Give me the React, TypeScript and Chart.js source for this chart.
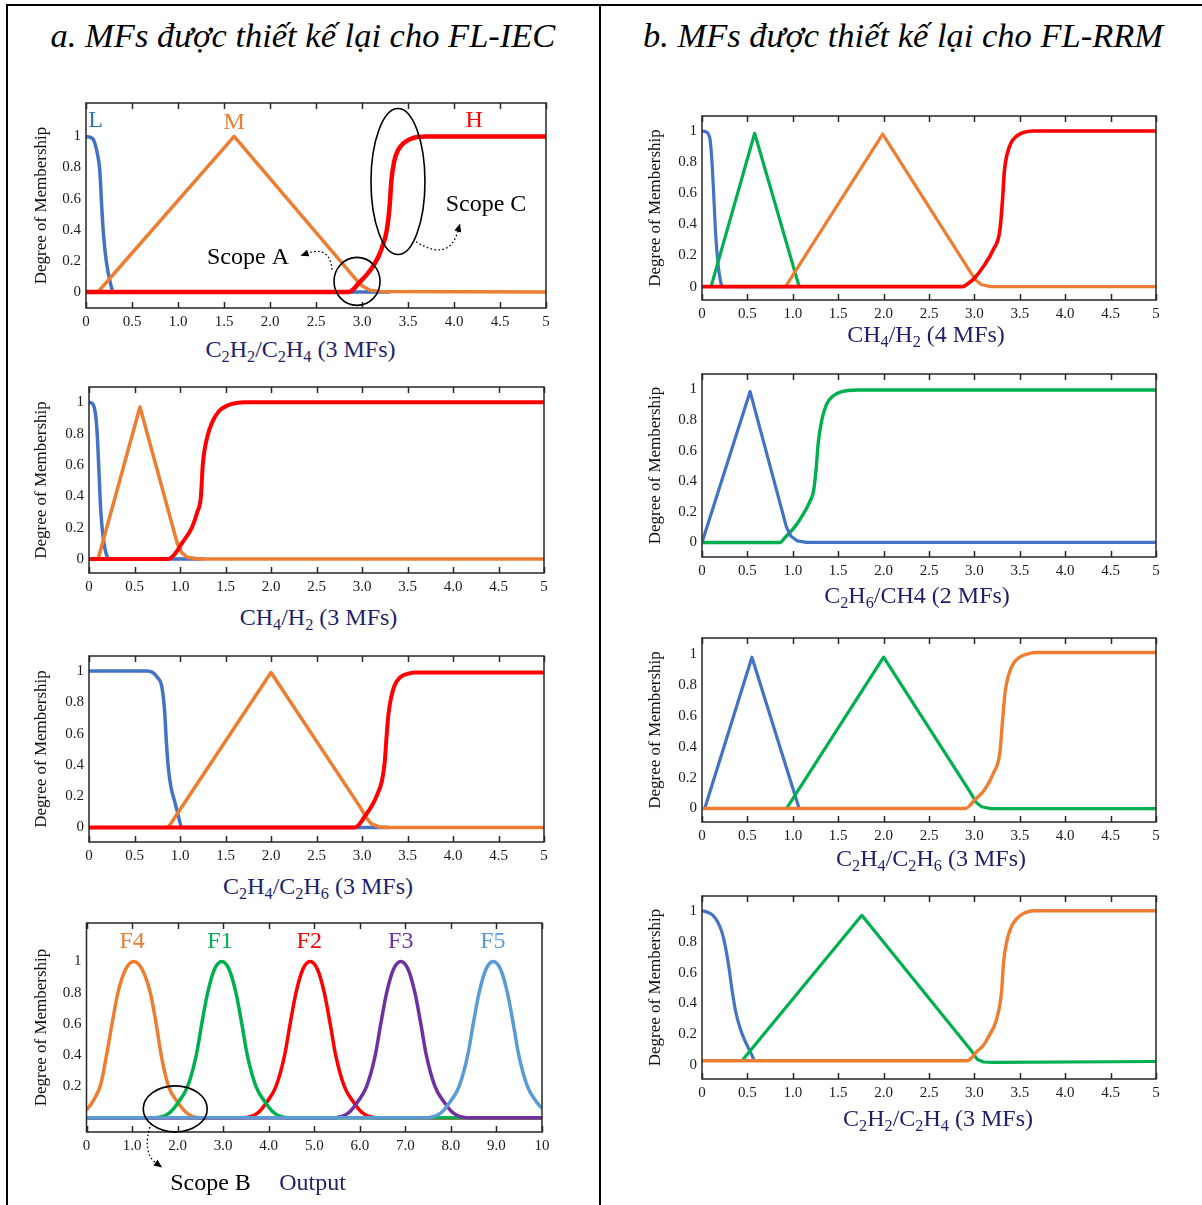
import React, { useEffect, useRef } from "react";
import { Chart, registerables } from "chart.js";

Chart.register(...registerables);

type Pt = [number, number];

// ---------------- tick values & labels ----------------
const X_TICKS_5 = [0, 0.5, 1, 1.5, 2, 2.5, 3, 3.5, 4, 4.5, 5];
const X_LABELS_5 = ["0", "0.5", "1.0", "1.5", "2.0", "2.5", "3.0", "3.5", "4.0", "4.5", "5"];
const X_TICKS_10 = [0, 1, 2, 3, 4, 5, 6, 7, 8, 9, 10];
const X_LABELS_10 = ["0", "1.0", "2.0", "3.0", "4.0", "5.0", "6.0", "7.0", "8.0", "9.0", "10"];
const Y_TICKS = [0, 0.2, 0.4, 0.6, 0.8, 1];
const Y_LABELS = ["0", "0.2", "0.4", "0.6", "0.8", "1"];
const Y_TICKS_OUT = [0.2, 0.4, 0.6, 0.8, 1];
const Y_LABELS_OUT = ["0.2", "0.4", "0.6", "0.8", "1"];

// ---------------- a1: C2H2/C2H4 (FL-IEC) ----------------
const a1L: Pt[] = [[0, 1], [0.04, 0.995], [0.08, 0.98], [0.12, 0.9], [0.15, 0.78], [0.17, 0.56], [0.19, 0.37], [0.22, 0.2], [0.26, 0.07], [0.3, 0], [3.3, 0]];
const a1M: Pt[] = [[0.13, 0], [1.61, 1], [2.92, 0.09], [3.0, 0.04], [3.08, 0.012], [3.2, 0.003], [5, 0]];
const a1H: Pt[] = [[0, 0], [2.85, 0], [2.9, 0.015], [2.97, 0.06], [3.05, 0.11], [3.12, 0.165], [3.18, 0.23], [3.22, 0.29], [3.27, 0.4], [3.3, 0.55], [3.32, 0.72], [3.35, 0.84], [3.39, 0.91], [3.45, 0.955], [3.52, 0.982], [3.6, 0.996], [3.7, 1], [5, 1]];

// ---------------- a2: CH4/H2 (FL-IEC) ----------------
const a2L: Pt[] = [[0, 1], [0.04, 0.99], [0.07, 0.93], [0.09, 0.8], [0.11, 0.55], [0.13, 0.3], [0.16, 0.12], [0.19, 0.03], [0.22, 0], [1.25, 0]];
const a2M: Pt[] = [[0.1, 0], [0.56, 0.97], [0.97, 0.1], [1.02, 0.04], [1.08, 0.012], [1.2, 0], [5, 0]];
const a2H: Pt[] = [[0, 0], [0.87, 0], [0.94, 0.03], [1.02, 0.1], [1.13, 0.2], [1.19, 0.3], [1.23, 0.4], [1.25, 0.6], [1.3, 0.78], [1.36, 0.88], [1.43, 0.945], [1.52, 0.98], [1.62, 0.996], [1.72, 1], [5, 1]];

// ---------------- a3: C2H4/C2H6 (FL-IEC) ----------------
const a3L: Pt[] = [[0, 1], [0.64, 1], [0.7, 0.99], [0.75, 0.96], [0.8, 0.9], [0.83, 0.75], [0.85, 0.55], [0.87, 0.39], [0.9, 0.26], [0.94, 0.17], [0.98, 0.08], [1.02, 0], [3.3, 0]];
const a3M: Pt[] = [[0.87, 0], [2.0, 0.99], [2.98, 0.13], [3.05, 0.06], [3.1, 0.025], [3.18, 0.005], [3.3, 0], [5, 0]];
const a3H: Pt[] = [[0, 0], [2.92, 0], [2.97, 0.02], [3.03, 0.07], [3.1, 0.13], [3.16, 0.2], [3.22, 0.3], [3.25, 0.42], [3.27, 0.58], [3.29, 0.72], [3.32, 0.83], [3.36, 0.91], [3.42, 0.96], [3.5, 0.982], [3.6, 0.99], [5, 0.99]];

// ---------------- a4: Output (FL-IEC) ----------------
const a4F4: Pt[] = [[0, 0.05], [0.1, 0.085], [0.2, 0.135], [0.31, 0.21], [0.44, 0.4], [0.56, 0.6], [0.69, 0.8], [0.86, 0.95], [1.04, 1], [1.22, 0.95], [1.4, 0.8], [1.53, 0.6], [1.64, 0.4], [1.8, 0.2], [2.0, 0.1], [2.2, 0.03], [2.45, 0], [10, 0]];
const a4F1: Pt[] = [[0, 0], [1.52, 0], [1.82, 0.03], [2.02, 0.1], [2.22, 0.2], [2.41, 0.4], [2.53, 0.6], [2.66, 0.8], [2.81, 0.95], [2.97, 1], [3.13, 0.95], [3.28, 0.8], [3.41, 0.6], [3.53, 0.4], [3.72, 0.2], [3.92, 0.1], [4.12, 0.03], [4.42, 0], [10, 0]];
const a4F2: Pt[] = [[0, 0], [3.46, 0], [3.76, 0.03], [3.96, 0.1], [4.16, 0.2], [4.35, 0.4], [4.47, 0.6], [4.6, 0.8], [4.75, 0.95], [4.91, 1], [5.07, 0.95], [5.22, 0.8], [5.35, 0.6], [5.47, 0.4], [5.66, 0.2], [5.86, 0.1], [6.06, 0.03], [6.36, 0], [10, 0]];
const a4F3: Pt[] = [[0, 0], [5.45, 0], [5.75, 0.03], [5.95, 0.1], [6.15, 0.2], [6.34, 0.4], [6.46, 0.6], [6.59, 0.8], [6.74, 0.95], [6.9, 1], [7.06, 0.95], [7.21, 0.8], [7.34, 0.6], [7.46, 0.4], [7.65, 0.2], [7.85, 0.1], [8.05, 0.03], [8.35, 0], [10, 0]];
const a4F5: Pt[] = [[0, 0], [7.48, 0], [7.78, 0.03], [7.98, 0.1], [8.18, 0.2], [8.37, 0.4], [8.49, 0.6], [8.62, 0.8], [8.77, 0.95], [8.93, 1], [9.09, 0.95], [9.24, 0.8], [9.37, 0.6], [9.49, 0.4], [9.68, 0.2], [9.88, 0.1], [10, 0.06]];

// ---------------- b1: CH4/H2 (FL-RRM, 4 MFs) ----------------
const b1A: Pt[] = [[0, 1], [0.04, 0.995], [0.07, 0.98], [0.09, 0.94], [0.11, 0.8], [0.13, 0.58], [0.15, 0.34], [0.18, 0.13], [0.21, 0.02], [0.23, 0], [1.0, 0]];
const b1B: Pt[] = [[0.1, 0], [0.58, 0.985], [1.07, 0]];
const b1C: Pt[] = [[0.92, 0], [1.99, 0.98], [2.96, 0.09], [3.02, 0.04], [3.08, 0.012], [3.18, 0], [5, 0]];
const b1D: Pt[] = [[0, 0], [2.87, 0], [2.93, 0.02], [3.0, 0.054], [3.1, 0.13], [3.21, 0.24], [3.28, 0.36], [3.31, 0.56], [3.33, 0.74], [3.36, 0.85], [3.4, 0.92], [3.46, 0.965], [3.54, 0.99], [3.64, 1], [5, 1]];

// ---------------- b2: C2H6/CH4 (FL-RRM, 2 MFs) ----------------
const b2A: Pt[] = [[0, 0], [0.53, 0.985], [0.93, 0.1], [0.98, 0.04], [1.05, 0.01], [1.15, 0], [5, 0]];
const b2B: Pt[] = [[0, 0], [0.86, 0], [0.91, 0.03], [1.02, 0.1], [1.12, 0.19], [1.19, 0.27], [1.23, 0.34], [1.26, 0.5], [1.28, 0.65], [1.32, 0.8], [1.37, 0.9], [1.44, 0.955], [1.54, 0.985], [1.7, 0.996], [5, 0.996]];

// ---------------- b3: C2H4/C2H6 (FL-RRM, 3 MFs) ----------------
const b3A: Pt[] = [[0.03, 0], [0.55, 0.98], [1.07, 0]];
const b3B: Pt[] = [[0.93, 0], [2.0, 0.98], [2.95, 0.11], [3.02, 0.04], [3.08, 0.012], [3.18, 0], [5, 0]];
const b3C: Pt[] = [[0, 0], [2.9, 0], [2.95, 0.02], [3.0, 0.054], [3.11, 0.12], [3.21, 0.23], [3.28, 0.36], [3.31, 0.57], [3.34, 0.76], [3.38, 0.87], [3.43, 0.94], [3.5, 0.98], [3.58, 1.0], [3.68, 1.01], [5, 1.01]];

// ---------------- b4: C2H2/C2H4 (FL-RRM, 3 MFs) ----------------
const b4A: Pt[] = [[0, 1], [0.06, 0.99], [0.12, 0.97], [0.17, 0.93], [0.22, 0.86], [0.26, 0.76], [0.3, 0.62], [0.33, 0.49], [0.37, 0.35], [0.42, 0.24], [0.48, 0.15], [0.53, 0.09], [0.57, 0.04]];
const b4B: Pt[] = [[0.44, 0.03], [1.76, 0.97], [2.96, 0.1], [3.03, 0.04], [3.1, 0.022], [3.2, 0.02], [5, 0.025]];
const b4C: Pt[] = [[0, 0.03], [2.92, 0.03], [2.97, 0.05], [3.01, 0.08], [3.1, 0.13], [3.16, 0.19], [3.24, 0.29], [3.3, 0.48], [3.32, 0.66], [3.36, 0.81], [3.41, 0.9], [3.47, 0.95], [3.55, 0.985], [3.67, 1], [5, 1]];

// ---------------- colours & fonts ----------------
const BLUE = "#4472C4";
const ORANGE = "#ED7D31";
const RED = "#FF0000";
const GREEN = "#00B050";
const PURPLE = "#7030A0";
const LBLUE = "#5B9BD5";
const NAVY = "#1d1f6c";
const SERIF = "'Liberation Serif', 'Times New Roman', serif";

type Series = { pts: Pt[]; color: string; width: number; smooth: boolean };
type Label = { text: string; x: number; y: number; color: string; size: number };
type Ellipse = { x: number; y: number; rx: number; ry: number };
type Arrow = { from: Pt; ctrl: Pt; to: Pt };

type Panel = {
  id: string;
  colLeft: number; colRight: number;
  frame: { l: number; r: number; t: number; b: number };
  xAxisH: number;
  yTitleX: number;
  xMax: number;
  yMin: number; yMax: number;
  xTicks: number[]; xLabels: string[];
  yTicks: number[]; yLabels: string[];
  series: Series[]; // listed bottom-most first, top-most last
  labels?: Label[];
  ellipses?: Ellipse[];
  arrows?: Arrow[];
};

const PAD_TOP = 8;

const s = (pts: Pt[], color: string, width: number, smooth: boolean): Series => ({ pts, color, width, smooth });

const PANELS: Panel[] = [
  {
    id: "a1", colLeft: 14, colRight: 580, frame: { l: 86, r: 546, t: 103, b: 308 }, xAxisH: 28, yTitleX: 42,
    xMax: 5, yMin: -0.103, yMax: 1.215, xTicks: X_TICKS_5, xLabels: X_LABELS_5, yTicks: Y_TICKS, yLabels: Y_LABELS,
    series: [s(a1L, BLUE, 3.5, true), s(a1M, ORANGE, 3.5, false), s(a1H, RED, 4.5, true)],
    labels: [
      { text: "L", x: 0.105, y: 1.1, color: "#2E75B6", size: 24 },
      { text: "M", x: 1.61, y: 1.09, color: ORANGE, size: 24 },
      { text: "H", x: 4.22, y: 1.1, color: RED, size: 24 },
      { text: "Scope A", x: 1.761, y: 0.22, color: "#000", size: 24 },
      { text: "Scope C", x: 4.348, y: 0.561, color: "#000", size: 24 },
    ],
    ellipses: [{ x: 2.946, y: 0.068, rx: 23, ry: 24 }, { x: 3.391, y: 0.71, rx: 27, ry: 73 }],
    arrows: [
      { from: [2.674, 0.143], ctrl: [2.652, 0.3], to: [2.33, 0.233] },
      { from: [3.587, 0.323], ctrl: [3.95, 0.19], to: [4.065, 0.44] },
    ],
  },
  {
    id: "a2", colLeft: 14, colRight: 580, frame: { l: 89, r: 544, t: 387, b: 573 }, xAxisH: 28, yTitleX: 42,
    xMax: 5, yMin: -0.089, yMax: 1.098, xTicks: X_TICKS_5, xLabels: X_LABELS_5, yTicks: Y_TICKS, yLabels: Y_LABELS,
    series: [s(a2L, BLUE, 3.5, true), s(a2M, ORANGE, 3.5, false), s(a2H, RED, 4, true)],
  },
  {
    id: "a3", colLeft: 14, colRight: 580, frame: { l: 89, r: 544, t: 656, b: 842 }, xAxisH: 28, yTitleX: 42,
    xMax: 5, yMin: -0.093, yMax: 1.096, xTicks: X_TICKS_5, xLabels: X_LABELS_5, yTicks: Y_TICKS, yLabels: Y_LABELS,
    series: [s(a3L, BLUE, 3.5, true), s(a3M, ORANGE, 3.5, false), s(a3H, RED, 4, true)],
  },
  {
    id: "a4", colLeft: 14, colRight: 580, frame: { l: 86.5, r: 542, t: 923, b: 1132 }, xAxisH: 52, yTitleX: 42,
    xMax: 10, yMin: -0.092, yMax: 1.246, xTicks: X_TICKS_10, xLabels: X_LABELS_10, yTicks: Y_TICKS_OUT, yLabels: Y_LABELS_OUT,
    series: [s(a4F4, ORANGE, 3.5, true), s(a4F2, RED, 3.5, true), s(a4F1, GREEN, 3.5, true), s(a4F3, PURPLE, 3.5, true), s(a4F5, LBLUE, 3.5, true)],
    labels: [
      { text: "F4", x: 1.0, y: 1.128, color: ORANGE, size: 24 },
      { text: "F1", x: 2.93, y: 1.128, color: GREEN, size: 24 },
      { text: "F2", x: 4.89, y: 1.128, color: RED, size: 24 },
      { text: "F3", x: 6.9, y: 1.128, color: PURPLE, size: 24 },
      { text: "F5", x: 8.92, y: 1.128, color: LBLUE, size: 24 },
    ],
    ellipses: [{ x: 1.948, y: 0.056, rx: 32, ry: 23 }],
    arrows: [{ from: [1.42, -0.034], ctrl: [1.2, -0.22], to: [1.66, -0.32] }],
  },
  {
    id: "b1", colLeft: 620, colRight: 1182, frame: { l: 702, r: 1156, t: 116, b: 300 }, xAxisH: 28, yTitleX: 655.6,
    xMax: 5, yMin: -0.086, yMax: 1.096, xTicks: X_TICKS_5, xLabels: X_LABELS_5, yTicks: Y_TICKS, yLabels: Y_LABELS,
    series: [s(b1A, BLUE, 3.2, true), s(b1B, GREEN, 3.2, false), s(b1C, ORANGE, 3.2, false), s(b1D, RED, 3.6, true)],
  },
  {
    id: "b2", colLeft: 620, colRight: 1182, frame: { l: 702, r: 1156, t: 374, b: 557 }, xAxisH: 28, yTitleX: 655.6,
    xMax: 5, yMin: -0.095, yMax: 1.1, xTicks: X_TICKS_5, xLabels: X_LABELS_5, yTicks: Y_TICKS, yLabels: Y_LABELS,
    series: [s(b2B, GREEN, 3.4, true), s(b2A, BLUE, 3.2, false)],
  },
  {
    id: "b3", colLeft: 620, colRight: 1182, frame: { l: 702, r: 1156, t: 638, b: 822 }, xAxisH: 28, yTitleX: 655.6,
    xMax: 5, yMin: -0.087, yMax: 1.104, xTicks: X_TICKS_5, xLabels: X_LABELS_5, yTicks: Y_TICKS, yLabels: Y_LABELS,
    series: [s(b3A, BLUE, 3.2, false), s(b3B, GREEN, 3.2, false), s(b3C, ORANGE, 3.4, true)],
  },
  {
    id: "b4", colLeft: 620, colRight: 1182, frame: { l: 702, r: 1156, t: 896, b: 1079 }, xAxisH: 28, yTitleX: 655.6,
    xMax: 5, yMin: -0.088, yMax: 1.095, xTicks: X_TICKS_5, xLabels: X_LABELS_5, yTicks: Y_TICKS, yLabels: Y_LABELS,
    series: [s(b4A, BLUE, 3.2, true), s(b4B, GREEN, 3.2, false), s(b4C, ORANGE, 3.4, true)],
  },
];

const Y_TITLE_SIZE = 17;
const TICK_SIZE = 15;

const framePlugin = (p: Panel) => ({
  id: "frame-" + p.id,
  afterDraw(chart: any) {
    const { ctx, chartArea } = chart;
    const { left, right, top, bottom } = chartArea;
    const xs = chart.scales.x;
    const ys = chart.scales.y;
    ctx.save();
    ctx.strokeStyle = "#262626";
    ctx.lineWidth = 1.5;
    ctx.strokeRect(left, top, right - left, bottom - top);
    ctx.beginPath();
    p.xTicks.forEach((v) => {
      const px = Math.round(xs.getPixelForValue(v)) + 0.5;
      ctx.moveTo(px, top);
      ctx.lineTo(px, top + 6);
      ctx.moveTo(px, bottom);
      ctx.lineTo(px, bottom - 6);
    });
    ctx.stroke();

    // ellipses
    ctx.strokeStyle = "#000";
    ctx.lineWidth = 1.6;
    (p.ellipses || []).forEach((e) => {
      ctx.beginPath();
      ctx.ellipse(xs.getPixelForValue(e.x), ys.getPixelForValue(e.y), e.rx, e.ry, 0, 0, Math.PI * 2);
      ctx.stroke();
    });

    // dotted arrows
    (p.arrows || []).forEach((a) => {
      const fx = xs.getPixelForValue(a.from[0]), fy = ys.getPixelForValue(a.from[1]);
      const cx = xs.getPixelForValue(a.ctrl[0]), cy = ys.getPixelForValue(a.ctrl[1]);
      const tx = xs.getPixelForValue(a.to[0]), ty = ys.getPixelForValue(a.to[1]);
      const ang = Math.atan2(ty - cy, tx - cx);
      const head = 9;
      const bx = tx - Math.cos(ang) * head * 0.8, by = ty - Math.sin(ang) * head * 0.8;
      ctx.save();
      ctx.setLineDash([1.6, 2.4]);
      ctx.lineWidth = 1.3;
      ctx.beginPath();
      ctx.moveTo(fx, fy);
      ctx.quadraticCurveTo(cx, cy, bx, by);
      ctx.stroke();
      ctx.restore();
      ctx.fillStyle = "#000";
      ctx.beginPath();
      ctx.moveTo(tx, ty);
      ctx.lineTo(tx - Math.cos(ang - 0.4) * head, ty - Math.sin(ang - 0.4) * head);
      ctx.lineTo(tx - Math.cos(ang + 0.4) * head, ty - Math.sin(ang + 0.4) * head);
      ctx.closePath();
      ctx.fill();
    });

    // labels
    ctx.textAlign = "center";
    ctx.textBaseline = "middle";
    (p.labels || []).forEach((l) => {
      ctx.font = `${l.size}px ${SERIF}`;
      ctx.fillStyle = l.color;
      ctx.fillText(l.text, xs.getPixelForValue(l.x), ys.getPixelForValue(l.y));
    });
    ctx.restore();
  },
});

function PanelChart({ p }: { p: Panel }) {
  const ref = useRef<HTMLCanvasElement>(null);
  const canvasTop = p.frame.t - PAD_TOP;
  const width = p.colRight - p.colLeft;
  const height = p.frame.b + p.xAxisH - canvasTop;
  useEffect(() => {
    const yAxisW = p.frame.l - p.colLeft;
    const padRight = p.colRight - p.frame.r;
    const lineH = Y_TITLE_SIZE * 1.2;
    const n = p.series.length;
    const chart = new Chart(ref.current as HTMLCanvasElement, {
      type: "line",
      data: {
        datasets: p.series.map((sr, i) => ({
          data: sr.pts.map(([x, y]) => ({ x, y })),
          order: n - i, // later series drawn on top
          borderColor: sr.color,
          backgroundColor: sr.color,
          borderWidth: sr.width,
          pointRadius: 0,
          fill: false,
          tension: 0,
          cubicInterpolationMode: sr.smooth ? "monotone" : "default",
          borderJoinStyle: "round",
          borderCapStyle: "butt",
        })),
      },
      options: {
        animation: false,
        responsive: false,
        devicePixelRatio: 1,
        events: [],
        layout: { padding: { top: PAD_TOP, right: padRight, left: 0, bottom: 0 } },
        plugins: { legend: { display: false }, tooltip: { enabled: false }, title: { display: false } },
        scales: {
          x: {
            type: "linear",
            min: 0,
            max: p.xMax,
            grid: { display: false, drawTicks: false },
            border: { display: false },
            afterBuildTicks: (sc: any) => { sc.ticks = p.xTicks.map((v) => ({ value: v })); },
            afterFit: (sc: any) => { sc.height = p.xAxisH; sc.paddingLeft = 0; sc.paddingRight = 0; sc.paddingTop = 0; sc.paddingBottom = 0; },
            ticks: {
              autoSkip: false,
              maxRotation: 0,
              padding: 5,
              color: "#1a1a1a",
              font: { family: SERIF, size: TICK_SIZE },
              callback: (_v: any, i: number) => p.xLabels[i],
            },
          },
          y: {
            type: "linear",
            min: p.yMin,
            max: p.yMax,
            grid: { display: false, drawTicks: false },
            border: { display: false },
            afterBuildTicks: (sc: any) => { sc.ticks = p.yTicks.map((v) => ({ value: v })); },
            afterFit: (sc: any) => { sc.width = yAxisW; sc.paddingTop = 0; sc.paddingBottom = 0; sc.paddingLeft = 0; sc.paddingRight = 0; },
            ticks: {
              autoSkip: false,
              padding: 5,
              color: "#1a1a1a",
              font: { family: SERIF, size: TICK_SIZE },
              callback: (_v: any, i: number) => p.yLabels[i],
            },
            title: {
              display: true,
              text: "Degree of Membership",
              color: "#111",
              font: { family: SERIF, size: Y_TITLE_SIZE },
              padding: { top: p.yTitleX - p.colLeft - lineH / 2, bottom: 0 },
            },
          },
        },
      },
      plugins: [framePlugin(p)],
    } as any);
    return () => chart.destroy();
  }, []);
  return (
    <canvas
      ref={ref}
      width={width}
      height={height}
      style={{ position: "absolute", left: p.colLeft, top: canvasTop, width, height }}
    />
  );
}

const sub = (t: string) => (
  <sub style={{ fontSize: "0.68em", verticalAlign: "-0.28em", lineHeight: 0 }}>{t}</sub>
);

const XTitle = ({ x, y, children, color = NAVY }: { x: number; y: number; children: any; color?: string }) => (
  <div
    style={{
      position: "absolute", left: x, top: y, transform: "translate(-50%, -50%)",
      fontFamily: SERIF, fontSize: 24, color, whiteSpace: "nowrap", lineHeight: 1,
    }}
  >
    {children}
  </div>
);

const titleStyle: React.CSSProperties = {
  position: "absolute", top: 35, transform: "translate(-50%, -50%)", fontFamily: SERIF,
  fontStyle: "italic", fontSize: 34.5, whiteSpace: "nowrap", lineHeight: 1, color: "#000",
};

export default function App() {
  return (
    <div style={{ position: "absolute", left: 0, top: 0, width: 1202, height: 1205, background: "#fff", overflow: "hidden" }}>
      {/* table borders */}
      <div style={{ position: "absolute", left: 6, top: 4, width: 1196, height: 2, background: "#000" }} />
      <div style={{ position: "absolute", left: 6, top: 4, width: 2, height: 1201, background: "#000" }} />
      <div style={{ position: "absolute", left: 599, top: 4, width: 2, height: 1201, background: "#000" }} />

      {/* column titles */}
      <div style={{ ...titleStyle, left: 303 }}>a. MFs được thiết kế lại cho FL-IEC</div>
      <div style={{ ...titleStyle, left: 903 }}>b. MFs được thiết kế lại cho FL-RRM</div>

      {PANELS.map((p) => <PanelChart key={p.id} p={p} />)}

      {/* axis titles */}
      <XTitle x={300.5} y={349}>C{sub("2")}H{sub("2")}/C{sub("2")}H{sub("4")} (3 MFs)</XTitle>
      <XTitle x={318.5} y={617}>CH{sub("4")}/H{sub("2")} (3 MFs)</XTitle>
      <XTitle x={318} y={886}>C{sub("2")}H{sub("4")}/C{sub("2")}H{sub("6")} (3 MFs)</XTitle>
      <XTitle x={210.5} y={1182} color="#000">Scope B</XTitle>
      <XTitle x={312.5} y={1182}>Output</XTitle>
      <XTitle x={926} y={334}>CH{sub("4")}/H{sub("2")} (4 MFs)</XTitle>
      <XTitle x={917} y={595}>C{sub("2")}H{sub("6")}/CH4 (2 MFs)</XTitle>
      <XTitle x={931} y={858}>C{sub("2")}H{sub("4")}/C{sub("2")}H{sub("6")} (3 MFs)</XTitle>
      <XTitle x={938} y={1118}>C{sub("2")}H{sub("2")}/C{sub("2")}H{sub("4")} (3 MFs)</XTitle>
    </div>
  );
}
